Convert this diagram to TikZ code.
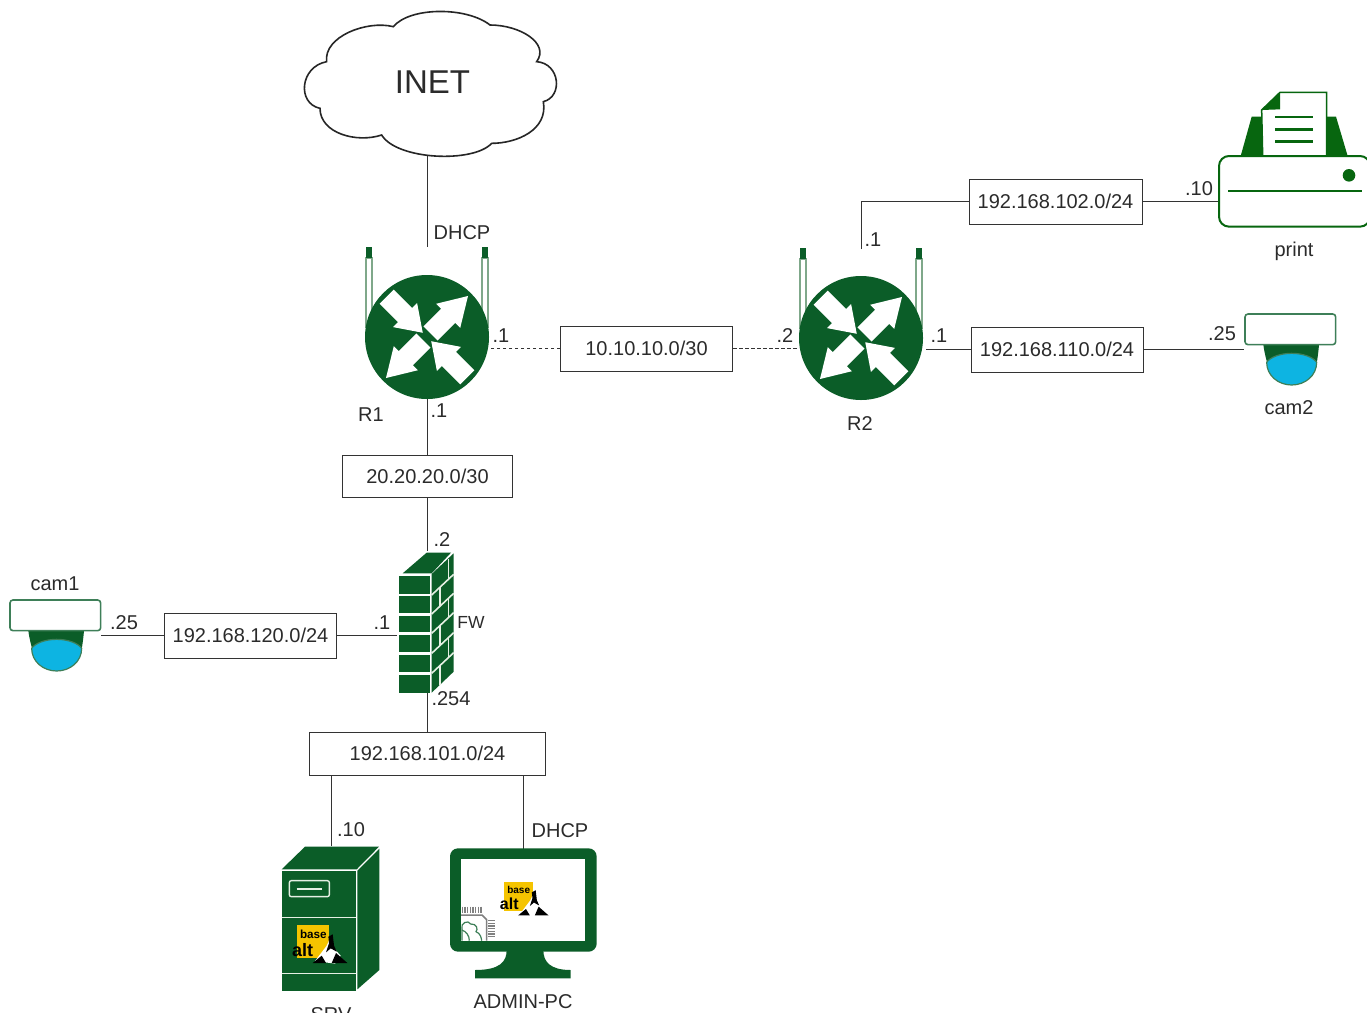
\documentclass[tikz,border=0pt]{standalone}
\usepackage{fontspec}
\setmainfont{Liberation Sans}
\definecolor{dgreen}{HTML}{0B5D28}
\definecolor{pgreen}{HTML}{07660F}
\definecolor{lightl}{HTML}{E6F0E4}
\definecolor{paleg}{HTML}{7FA88A}
\definecolor{cblue}{HTML}{0DB4E2}
\definecolor{camedge}{HTML}{3E7F58}
\definecolor{txt}{HTML}{2B2B2B}
\definecolor{lnk}{HTML}{333333}
\definecolor{logoy}{HTML}{F5C400}
\tikzset{
  lbl/.style={font=\fontsize{20}{24}\selectfont,inner sep=0pt,text=txt,yshift=-1pt},
  netbox/.style={draw=lnk,line width=1pt,fill=white,font=\fontsize{20}{24}\selectfont,text=txt,inner sep=0pt},
  anchorbox/.style={inner sep=0pt,outer sep=0pt},
  link/.style={draw=lnk,line width=1pt},
  dashlink/.style={draw=lnk,line width=1pt,dash pattern=on 3.5pt off 2.5pt},
  zoomed/.style={x=0.33333pt,y=-0.33333pt},
}
\newcommand{\routericon}[2]{%
  \begin{scope}[shift={(#1,#2)}]
    \foreach \ax in {-58,58}{
      \fill[white,draw=paleg,line width=1.4pt] (\ax-3,-79) rectangle (\ax+3,-10);
      \fill[dgreen] (\ax-3.4,-90) rectangle (\ax+3.4,-79);
    }
    \fill[dgreen] (0,0) circle[radius=62pt];
    \foreach \rr in {45,225}{
      \fill[white,rotate=\rr] (58,0)--(30,17)--(30,10)--(5,10)--(5,-10)--(30,-10)--(30,-17)--cycle;
    }
    \foreach \rr in {135,-45}{
      \fill[white,rotate=\rr] (6,0)--(31,17)--(31,10)--(57,10)--(57,-10)--(31,-10)--(31,-17)--cycle;
    }
  \end{scope}}
\newcommand{\camicon}[2]{%
  \begin{scope}[shift={(#1,#2)},zoomed]
    \fill[dgreen] (85,122) .. controls (88,145) and (92,160) .. (97,178) -- (245,178) .. controls (248,160) and (250,145) .. (252,122) -- cycle;
    \filldraw[fill=cblue,draw=camedge,line width=1.2pt] (95,175) .. controls (105,160) and (135,148) .. (170,148) .. controls (205,148) and (235,160) .. (245,175) .. controls (245,215) and (210,243) .. (170,243) .. controls (130,243) and (95,215) .. (95,175) -- cycle;
    \filldraw[fill=white,draw=camedge,line width=1.6pt,rounded corners=3pt] (30,30) rectangle (302,122);
  \end{scope}}
\newcommand{\altlogo}[6]{% name,x,y,scale,basesize,altsize
  \begin{scope}[shift={(#2,#3)},x=#4*0.33333pt,y=-#4*0.33333pt]
    \fill[logoy] (0,0) rectangle (98,98);
    \fill[white] (55,108)--(90,62)--(100,40)--(112,70)--(132,92)--(115,116)--cycle;
    \fill[black] (48,114)--(75,92)--(88,114)--cycle;
    \fill[black] (105,114)--(118,84)--(152,114)--cycle;
    \fill[black] (95,35)--(108,28)--(112,62)--(120,80)--(102,70)--(88,82)--(97,55)--cycle;
    \node[inner sep=0pt,text=black,font=\fontsize{#5}{#5}\selectfont\bfseries] (#1b) at (50,27) {base};
    \node[inner sep=0pt,text=black,font=\fontsize{#6}{#6}\selectfont\bfseries] (#1a) at (18,74) {alt};
  \end{scope}}
\begin{document}
\begin{tikzpicture}[x=1pt,y=-1pt]
\useasboundingbox (0,0) rectangle (1367,1012);
\clip (0,0) rectangle (1367,1012);
\fill[white] (0,0) rectangle (1367,1012);

% ---- anchors of the icons
\node[anchorbox,minimum width=252pt,minimum height=146pt] (inet) at (427.5,82.5) {};
\node[anchorbox,minimum width=124pt,minimum height=152pt] (R1) at (427.5,323) {};
\node[anchorbox,minimum width=129pt,minimum height=151pt] (R2) at (861.5,324.5) {};
\node[anchorbox,minimum width=148pt,minimum height=136pt] (printer) at (1293,160) {};
\node[anchorbox,minimum width=92pt,minimum height=72pt] (camB) at (1290,349) {};
\node[anchorbox,minimum width=92pt,minimum height=72pt] (camA) at (55,636) {};
\node[anchorbox,minimum width=62pt,minimum height=141pt] (FW) at (427.5,621.5) {};
\node[anchorbox,minimum width=100pt,minimum height=146pt] (SRV) at (331,919) {};
\node[anchorbox,minimum width=147pt,minimum height=130pt] (PC) at (523.5,914) {};

% ---- network boxes
\node[netbox,minimum width=172pt,minimum height=45pt] (n10) at (646.5,348.5) {10.10.10.0/30};
\node[netbox,minimum width=173pt,minimum height=45pt] (n102) at (1055.5,201.5) {192.168.102.0/24};
\node[netbox,minimum width=172pt,minimum height=45pt] (n110) at (1057,349.5) {192.168.110.0/24};
\node[netbox,minimum width=170pt,minimum height=42pt] (n20) at (427.5,476) {20.20.20.0/30};
\node[netbox,minimum width=172pt,minimum height=45pt] (n120) at (250.5,635.5) {192.168.120.0/24};
\node[netbox,minimum width=236pt,minimum height=43pt] (n101) at (427.5,753.5) {192.168.101.0/24};

% ---- connectors
\draw[link] (inet.south) -- (R1.north);
\draw[dashlink] (n10.west) -- (n10.west -| R1.east);
\draw[dashlink] (n10.east) -- (n10.east -| R2.west);
\draw[link] (R2.north) -- (R2.north |- n102.west) -- (n102.west);
\draw[link] (n102.east) -- (n102.east -| printer.west);
\draw[link] (R2.east |- n110.west) -- (n110.west);
\draw[link] (n110.east) -- (n110.east -| camB.west);
\draw[link] (R1.south) -- (n20.north);
\draw[link] (n20.south) -- (FW.north);
\draw[link] (FW.west |- n120.east) -- (n120.east);
\draw[link] (n120.west) -- (n120.west -| camA.east);
\draw[link] (FW.south) -- (n101.north);
\draw[link] (SRV.north) -- (SRV.north |- n101.south);
\draw[link] (PC.north) -- (PC.north |- n101.south);

% ---- cloud
\begin{scope}[shift={(290,0)},zoomed]
  \filldraw[fill=white,draw=black!85,line width=1.6pt]
    (110,185) .. controls (100,110) and (230,60) .. (310,80)
    .. controls (360,20) and (530,20) .. (600,75)
    .. controls (690,75) and (780,130) .. (740,185)
    .. controls (810,190) and (820,290) .. (760,305)
    .. controls (775,390) and (680,430) .. (605,430)
    .. controls (550,490) and (320,480) .. (275,405)
    .. controls (200,430) and (90,400) .. (90,325)
    .. controls (20,310) and (30,200) .. (110,185) -- cycle;
\end{scope}
\node[lbl,font=\fontsize{33}{36}\selectfont,yshift=1pt] (inettext) at (432.5,82) {INET};

% ---- routers
\routericon{427}{337}
\routericon{861}{338}

% ---- printer
\begin{scope}[shift={(1200,80)},zoomed]
  \fill[pgreen] (122,228)--(155,110)--(408,110)--(443,228)--cycle;
  \filldraw[fill=white,draw=pgreen,line width=1.5pt] (188,228)--(185,90)--(240,37)--(380,37)--(380,228)--cycle;
  \fill[pgreen] (185,90)--(240,37)--(240,88)--cycle;
  \foreach \ly in {111,148,184}{\draw[pgreen,line width=2.5pt] (225,\ly)--(338,\ly);}
  \filldraw[fill=white,draw=pgreen,line width=2pt,rounded corners=10pt] (57,228) rectangle (510,440);
  \draw[pgreen,line width=2.5pt] (85,333)--(485,333);
  \fill[pgreen] (447,286) circle[radius=6.3pt];
\end{scope}

% ---- cameras
\camicon{1235}{304}
\camicon{0}{590}

% ---- firewall
\begin{scope}[shift={(380,540)},zoomed]
  \fill[dgreen] (68,100)--(140,38)--(213,38)--(155,100)--cycle;
  \fill[dgreen] (155,102)--(221,40)--(221,395)--(155,458)--cycle;
  \foreach \ty/\by in {107/162,168/219,227/277,286/337,346/397,406/459}{
    \fill[dgreen] (58,\ty) rectangle (149,\by);
  }
  \foreach \sy in {165,222,280,340,400}{
    \draw[lightl,line width=1.6pt] (155,\sy)--(221,\sy-62);
  }
  \foreach \vx/\va/\vb in {205/56/118,180/141/198,205/175/233,180/256/316,205/293/353,180/376/434}{
    \draw[lightl,line width=1.6pt] (\vx,\va)--(\vx,\vb);
  }
\end{scope}

% ---- server
\begin{scope}[shift={(260,830)},zoomed]
  \fill[dgreen] (65,118)--(135,50)--(357,50)--(290,118)--cycle;
  \fill[dgreen] (292,122)--(358,56)--(358,420)--(292,478)--cycle;
  \fill[dgreen] (65,122) rectangle (287,483);
  \draw[lightl,line width=1.2pt] (65,262)--(287,262);
  \draw[lightl,line width=1.2pt] (65,431)--(287,431);
  \draw[lightl,line width=1.4pt,rounded corners=2pt] (88,152) rectangle (208,200);
  \draw[lightl,line width=2pt] (110,176)--(185,176);
\end{scope}
\altlogo{srvlogo}{296.7}{925}{1}{11.7}{18}

% ---- monitor
\begin{scope}[shift={(260,830)},zoomed]
  \fill[dgreen,rounded corners=8pt] (570,55) rectangle (1010,365);
  \fill[white] (603,88) rectangle (975,332);
  \fill[dgreen] (740,360) .. controls (740,395) and (720,420) .. (645,420) -- (645,445) -- (932,445) -- (932,420) .. controls (870,420) and (850,395) .. (850,360) -- cycle;
  % chip
  \foreach \cx in {607,615,623,631,639,647,655,663}{\draw[gray,line width=1.3pt] (\cx,230)--(\cx,250);}
  \foreach \cy in {272,280,288,296,304,312,320}{\draw[gray,line width=1.3pt] (685,\cy)--(705,\cy);}
  \draw[gray,line width=1.5pt] (603,255)--(666,255)--(680,269)--(680,332);
  \draw[camedge,line width=1.2pt] (606,332)--(606,295) .. controls (600,280) and (625,268) .. (632,282) .. controls (650,280) and (655,298) .. (648,305) .. controls (662,310) and (664,325) .. (665,332);
  \draw[camedge,line width=1.2pt] (606,300) .. controls (620,305) and (628,318) .. (628,332);
\end{scope}
\altlogo{pclogo}{504}{882}{.88}{10}{16}

% ---- labels
\node[lbl] (l1) at (462,232) {DHCP};
\node[lbl] (l2) at (501,335) {.1};
\node[lbl] (l3) at (785,335) {.2};
\node[lbl] (l4) at (873,239) {.1};
\node[lbl] (l5) at (1199,188) {.10};
\node[lbl] (l6) at (939,335) {.1};
\node[lbl] (l7) at (1222,333) {.25};
\node[lbl] (l8) at (1294,250) {print};
\node[lbl] (l9) at (1289,407) {cam2};
\node[lbl] (l10) at (371,414) {R1};
\node[lbl] (l11) at (439,410) {.1};
\node[lbl] (l12) at (860,423) {R2};
\node[lbl] (l13) at (442,539) {.2};
\node[lbl,font=\fontsize{17.5}{20}\selectfont] (l14) at (471,621) {FW};
\node[lbl] (l15) at (382,622) {.1};
\node[lbl] (l16) at (55,583) {cam1};
\node[lbl] (l17) at (124,622) {.25};
\node[lbl] (l18) at (451,698) {.254};
\node[lbl] (l19) at (351,829) {.10};
\node[lbl] (l20) at (560,830) {DHCP};
\node[lbl] (l21) at (331,1014) {SRV};
\node[lbl] (l22) at (523,1001) {ADMIN-PC};
\end{tikzpicture}
\end{document}
